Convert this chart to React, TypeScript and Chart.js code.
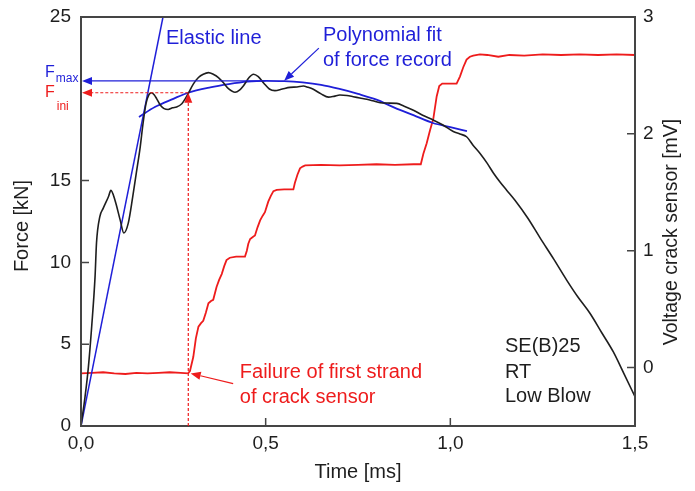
import React, { useEffect, useRef } from 'react';
import { Chart, registerables } from 'chart.js';

Chart.register(...registerables);

const forceT = [0, 0.011, 0.02, 0.029, 0.038, 0.042, 0.051, 0.06, 0.074, 0.081, 0.092, 0.106, 0.116, 0.128, 0.14, 0.15, 0.16, 0.168, 0.176, 0.184, 0.191, 0.198, 0.205, 0.215, 0.225, 0.236, 0.248, 0.259, 0.273, 0.282, 0.291, 0.304, 0.318, 0.331, 0.345, 0.358, 0.372, 0.385, 0.4, 0.417, 0.43, 0.44, 0.455, 0.467, 0.48, 0.495, 0.51, 0.525, 0.545, 0.566, 0.585, 0.602, 0.615, 0.629, 0.65, 0.67, 0.685, 0.701, 0.72, 0.737, 0.755, 0.774, 0.79, 0.81, 0.83, 0.855, 0.875, 0.9, 0.925, 0.954, 0.98, 1.008, 1.026, 1.044, 1.062, 1.08, 1.1, 1.117, 1.135, 1.153, 1.175, 1.21, 1.243, 1.28, 1.315, 1.345, 1.378, 1.41, 1.441, 1.47, 1.5];
const forceKN = [0, 1.8, 3.6, 6.1, 9.1, 11.2, 12.8, 13.3, 14.0, 14.4, 13.8, 12.6, 11.8, 12.4, 14.0, 15.5, 17.0, 18.5, 19.7, 20.25, 20.37, 20.25, 20.0, 19.6, 19.4, 19.35, 19.45, 19.5, 19.7, 20.0, 20.35, 20.9, 21.3, 21.5, 21.6, 21.5, 21.3, 21.0, 20.6, 20.4, 20.55, 20.8, 21.3, 21.5, 21.35, 20.95, 20.6, 20.5, 20.6, 20.7, 20.72, 20.78, 20.7, 20.58, 20.3, 20.1, 20.15, 20.23, 20.2, 20.13, 20.05, 19.97, 19.88, 19.76, 19.74, 19.72, 19.55, 19.3, 19.0, 18.7, 18.4, 18.0, 17.85, 17.68, 17.15, 16.67, 16.05, 15.45, 14.9, 14.4, 13.8, 12.7, 11.5, 10.2, 8.92, 7.9, 6.89, 5.7, 4.54, 3.2, 1.79];

const fitT = [0.157, 0.2, 0.25, 0.29, 0.35, 0.4, 0.45, 0.5, 0.55, 0.6, 0.65, 0.7, 0.75, 0.8, 0.85, 0.9, 0.953, 1.0, 1.045];
const fitKN = [18.89, 19.5, 20.0, 20.37, 20.7, 20.9, 21.05, 21.1, 21.08, 21.0, 20.85, 20.6, 20.3, 19.95, 19.45, 19.0, 18.52, 18.27, 18.03];

const elasticT = [0, 0.222];
const elasticKN = [0, 25];

const voltT = [0, 0.03, 0.06, 0.09, 0.12, 0.15, 0.18, 0.21, 0.24, 0.27, 0.29, 0.295, 0.304, 0.311, 0.318, 0.325, 0.331, 0.338, 0.345, 0.352, 0.358, 0.367, 0.374, 0.381, 0.388, 0.394, 0.403, 0.42, 0.444, 0.449, 0.453, 0.458, 0.466, 0.471, 0.478, 0.485, 0.492, 0.498, 0.507, 0.514, 0.521, 0.53, 0.55, 0.575, 0.579, 0.586, 0.593, 0.6, 0.607, 0.65, 0.7, 0.75, 0.8, 0.85, 0.9, 0.92, 0.927, 0.936, 0.945, 0.954, 0.963, 0.97, 0.978, 1.0, 1.017, 1.026, 1.035, 1.044, 1.053, 1.062, 1.08, 1.1, 1.13, 1.16, 1.2, 1.25, 1.3, 1.35, 1.4, 1.45, 1.5];
const voltMV = [-0.05, -0.045, -0.04, -0.05, -0.055, -0.045, -0.05, -0.045, -0.04, -0.045, -0.05, -0.03, 0.09, 0.25, 0.35, 0.38, 0.4, 0.47, 0.55, 0.57, 0.58, 0.69, 0.75, 0.8, 0.87, 0.92, 0.94, 0.95, 0.95, 1.0, 1.06, 1.1, 1.12, 1.13, 1.2, 1.26, 1.3, 1.33, 1.42, 1.47, 1.51, 1.52, 1.525, 1.525, 1.58, 1.65, 1.705, 1.72, 1.73, 1.735, 1.73, 1.735, 1.74, 1.735, 1.74, 1.74, 1.83, 1.92, 2.03, 2.13, 2.32, 2.41, 2.43, 2.43, 2.43, 2.49, 2.57, 2.635, 2.66, 2.67, 2.68, 2.675, 2.66, 2.675, 2.67, 2.68, 2.675, 2.68, 2.675, 2.68, 2.675];

const xTicks = [0, 0.5, 1.0, 1.5];
const forceTicks = [0, 5, 10, 15, 25];
const voltTicks = [0, 1, 2, 3];

const fMax = 21.09;
const fIni = 20.37;
const tIni = 0.2905;

const BLUE = '#1f1fd8';
const RED = '#ee1c1c';
const INK = '#1e1e1e';
const FONT = '"Liberation Sans", Arial, sans-serif';

const zip = (xs: number[], ys: number[]) => xs.map((x, i) => ({ x, y: ys[i] }));

function arrow(ctx: CanvasRenderingContext2D, x1: number, y1: number, x2: number, y2: number, color: string, dash: number[], headLen = 10, headW = 4) {
  const ang = Math.atan2(y2 - y1, x2 - x1);
  const bx = x2 - headLen * Math.cos(ang);
  const by = y2 - headLen * Math.sin(ang);
  ctx.save();
  ctx.strokeStyle = color;
  ctx.fillStyle = color;
  ctx.lineWidth = 1.2;
  ctx.setLineDash(dash);
  ctx.beginPath();
  ctx.moveTo(x1, y1);
  ctx.lineTo(bx, by);
  ctx.stroke();
  ctx.setLineDash([]);
  ctx.beginPath();
  ctx.moveTo(x2, y2);
  ctx.lineTo(bx + headW * Math.sin(ang), by - headW * Math.cos(ang));
  ctx.lineTo(bx - headW * Math.sin(ang), by + headW * Math.cos(ang));
  ctx.closePath();
  ctx.fill();
  ctx.restore();
}

const decorPlugin = {
  id: 'decor',
  afterDraw(chart: any) {
    const ctx: CanvasRenderingContext2D = chart.ctx;
    const { left, right, top, bottom } = chart.chartArea;
    const sx = chart.scales.x;
    const sy = chart.scales.y;
    const sv = chart.scales.y2;
    ctx.save();
    ctx.strokeStyle = '#454545';
    ctx.lineWidth = 2;
    ctx.strokeRect(left, top, right - left, bottom - top);
    ctx.lineWidth = 1.5;
    ctx.beginPath();
    xTicks.forEach((v) => { const p = sx.getPixelForValue(v); ctx.moveTo(p, bottom); ctx.lineTo(p, bottom - 8); });
    forceTicks.forEach((v) => { const p = sy.getPixelForValue(v); ctx.moveTo(left, p); ctx.lineTo(left + 8, p); });
    voltTicks.forEach((v) => { const p = sv.getPixelForValue(v); ctx.moveTo(right, p); ctx.lineTo(right - 8, p); });
    ctx.stroke();

    ctx.fillStyle = INK;
    ctx.textAlign = 'center';
    ctx.textBaseline = 'middle';
    ctx.font = `20px ${FONT}`;
    ctx.fillText('Time [ms]', (left + right) / 2, 472);
    ctx.save();
    ctx.translate(22.5, 226);
    ctx.rotate(-Math.PI / 2);
    ctx.fillText('Force [kN]', 0, 0);
    ctx.restore();
    ctx.save();
    ctx.font = `19.5px ${FONT}`;
    ctx.translate(672, 232);
    ctx.rotate(-Math.PI / 2);
    ctx.fillText('Voltage crack sensor [mV]', 0, 0);
    ctx.restore();

    const x0 = sx.getPixelForValue(0);
    const yMax = sy.getPixelForValue(fMax);
    const yIni = sy.getPixelForValue(fIni);
    const xIni = sx.getPixelForValue(tIni);
    arrow(ctx, sx.getPixelForValue(0.5), yMax, x0 + 1, yMax, BLUE, [], 10, 4);
    arrow(ctx, xIni, yIni, x0 + 1, yIni, RED, [3, 2], 10, 4);
    arrow(ctx, xIni, sy.getPixelForValue(0), xIni, yIni, RED, [3, 2], 10, 4);
    arrow(ctx, sx.getPixelForValue(0.644), sy.getPixelForValue(23.1), sx.getPixelForValue(0.55), sy.getPixelForValue(21.1), BLUE, [], 10, 4);
    arrow(ctx, sx.getPixelForValue(0.412), sv.getPixelForValue(-0.137), sx.getPixelForValue(0.297), sv.getPixelForValue(-0.05), RED, [], 10, 4);

    ctx.textAlign = 'left';
    ctx.textBaseline = 'middle';
    ctx.font = `20px ${FONT}`;
    ctx.fillStyle = BLUE;
    ctx.fillText('Elastic line', sx.getPixelForValue(0.23), sy.getPixelForValue(23.7));
    ctx.fillText('Polynomial fit', sx.getPixelForValue(0.655), sy.getPixelForValue(23.9));
    ctx.fillText('of force record', sx.getPixelForValue(0.655), sy.getPixelForValue(22.37));
    ctx.fillStyle = RED;
    ctx.fillText('Failure of first strand', sx.getPixelForValue(0.43), sv.getPixelForValue(-0.043));
    ctx.fillText('of crack sensor', sx.getPixelForValue(0.43), sv.getPixelForValue(-0.258));
    ctx.fillStyle = INK;
    ctx.fillText('SE(B)25', sx.getPixelForValue(1.148), sy.getPixelForValue(4.83));
    ctx.fillText('RT', sx.getPixelForValue(1.148), sy.getPixelForValue(3.3));
    ctx.fillText('Low Blow', sx.getPixelForValue(1.148), sy.getPixelForValue(1.83));

    ctx.textBaseline = 'alphabetic';
    const lx = sx.getPixelForValue(-0.0975);
    ctx.fillStyle = BLUE;
    ctx.font = `16px ${FONT}`;
    ctx.fillText('F', lx, yMax - 4);
    const fw = ctx.measureText('F').width;
    ctx.font = `12px ${FONT}`;
    ctx.fillText('max', lx + fw + 1, yMax + 1);
    ctx.fillStyle = RED;
    ctx.font = `16px ${FONT}`;
    ctx.fillText('F', lx, yIni + 4.5);
    ctx.font = `12px ${FONT}`;
    ctx.fillText('ini', lx + fw + 2, yIni + 17);
    ctx.restore();
  },
};

const fitVertical = (w: number) => (s: any) => {
  s.width = w;
  s.paddingTop = 0;
  s.paddingBottom = 0;
};

export default function App() {
  const ref = useRef<HTMLCanvasElement>(null);
  useEffect(() => {
    const canvas = ref.current!;
    const tickFont = { family: FONT, size: 19 };
    const chart = new Chart(canvas, {
      type: 'line',
      data: {
        datasets: [
          { label: 'Force', data: zip(forceT, forceKN), borderColor: INK, borderWidth: 1.6, pointRadius: 0, cubicInterpolationMode: 'monotone', yAxisID: 'y' },
          { label: 'Elastic line', data: zip(elasticT, elasticKN), borderColor: BLUE, borderWidth: 1.5, pointRadius: 0, tension: 0, yAxisID: 'y' },
          { label: 'Polynomial fit', data: zip(fitT, fitKN), borderColor: BLUE, borderWidth: 1.8, pointRadius: 0, cubicInterpolationMode: 'monotone', yAxisID: 'y' },
          { label: 'Voltage', data: zip(voltT, voltMV), borderColor: RED, borderWidth: 1.8, pointRadius: 0, tension: 0, yAxisID: 'y2' },
        ] as any,
      },
      options: {
        responsive: false,
        animation: false,
        devicePixelRatio: 1,
        layout: { padding: { top: 17, left: 0, right: 0, bottom: 0 } },
        plugins: { legend: { display: false }, tooltip: { enabled: false } },
        scales: {
          x: {
            type: 'linear', min: 0, max: 1.5,
            grid: { display: false, drawTicks: false },
            border: { display: false },
            afterBuildTicks: (s: any) => { s.ticks = xTicks.map((v) => ({ value: v })); },
            ticks: { color: INK, font: tickFont, padding: 6, callback: (v: any) => Number(v).toFixed(1).replace('.', ',') },
            title: { display: false },
            afterFit: (s: any) => { s.height = 65; s.paddingLeft = 0; s.paddingRight = 0; },
          },
          y: {
            type: 'linear', position: 'left', min: 0, max: 25,
            grid: { display: false, drawTicks: false },
            border: { display: false },
            afterBuildTicks: (s: any) => { s.ticks = forceTicks.map((v) => ({ value: v })); },
            ticks: { color: INK, font: tickFont, padding: 10 },
            title: { display: false },
            afterFit: fitVertical(81),
          },
          y2: {
            type: 'linear', position: 'right', min: -0.5, max: 3,
            grid: { display: false, drawTicks: false },
            border: { display: false },
            afterBuildTicks: (s: any) => { s.ticks = voltTicks.map((v) => ({ value: v })); },
            ticks: { color: INK, font: tickFont, padding: 8 },
            title: { display: false },
            afterFit: fitVertical(60),
          },
        },
      } as any,
      plugins: [decorPlugin],
    });
    return () => chart.destroy();
  }, []);
  return (
    <div style={{ position: 'absolute', left: 0, top: 0, width: 695, height: 491, background: '#fff' }}>
      <canvas ref={ref} width={695} height={491} />
    </div>
  );
}
